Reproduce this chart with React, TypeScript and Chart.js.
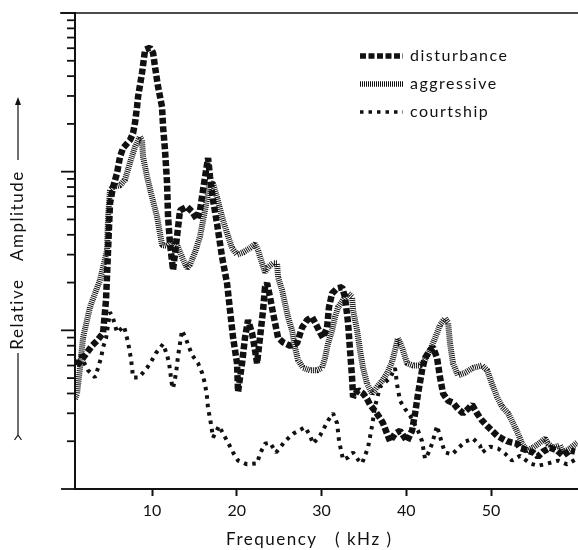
import React, { useEffect, useRef } from "react";
import { Chart, registerables } from "chart.js";

Chart.register(...registerables);

// ---- data (frequency in kHz, relative amplitude on a log scale) ----
const SERIES_NAMES = ["disturbance", "aggressive", "courtship"];

const DIST_FREQ = [1.15, 1.86, 2.92, 3.51, 4.22, 4.57, 4.81, 5.04, 5.4, 5.87, 6.22, 6.58, 7.4, 7.76, 7.99, 8.23, 8.35, 8.82, 9.18, 9.76, 10.12, 10.35, 10.71, 11.18, 11.3, 11.53, 11.77, 11.89, 12.12, 12.48, 12.95, 13.3, 14.13, 14.72, 15.31, 15.66, 16.02, 16.61, 16.84, 17.2, 17.67, 18.26, 18.85, 19.2, 19.56, 20.03, 20.15, 20.62, 20.97, 21.33, 21.8, 22.15, 22.39, 22.74, 23.1, 23.33, 23.57, 23.92, 24.28, 24.87, 25.46, 26.29, 27.11, 27.7, 28.29, 28.88, 29.23, 29.82, 30.17, 30.65, 30.88, 31.24, 31.83, 32.42, 32.77, 33.13, 33.36, 33.6, 33.72, 34.31, 34.9, 35.37, 35.72, 36.31, 36.9, 37.25, 37.73, 38.08, 38.67, 39.26, 40.09, 40.68, 41.04, 41.39, 41.86, 42.21, 42.8, 43.16, 43.63, 43.98, 44.34, 44.93, 45.51, 46.1, 46.69, 47.29, 47.76, 48.35, 48.94, 49.53, 50.12, 50.71, 51.3, 51.89, 52.48, 53.07, 53.42, 54.25, 54.95, 55.54, 56.13, 56.96, 57.79, 58.49, 59.32, 59.91];
const DIST_AMP = [0.6, 0.67, 0.8, 0.86, 0.96, 1.55, 3.2, 6.3, 8.0, 9.8, 12.4, 14.1, 15.8, 17.5, 20.3, 25.6, 29.6, 42, 58.7, 60.4, 56.2, 45.8, 34.3, 25.6, 19.2, 13.7, 8.5, 5.2, 3.5, 2.4, 3.9, 5.7, 6.0, 5.6, 5.0, 5.7, 7.7, 12.2, 9.3, 6.6, 4.7, 2.9, 1.98, 1.34, 0.9, 0.62, 0.41, 0.62, 0.9, 1.16, 0.96, 0.75, 0.62, 0.9, 1.34, 1.87, 1.98, 1.62, 1.28, 0.9, 0.84, 0.8, 0.83, 1.04, 1.16, 1.21, 1.12, 0.97, 0.9, 1.04, 1.4, 1.71, 1.84, 1.87, 1.62, 1.11, 0.75, 0.505, 0.38, 0.42, 0.4, 0.37, 0.34, 0.31, 0.28, 0.26, 0.223, 0.2, 0.223, 0.233, 0.2, 0.233, 0.3, 0.4, 0.56, 0.67, 0.75, 0.78, 0.67, 0.505, 0.4, 0.36, 0.35, 0.32, 0.3, 0.32, 0.34, 0.3, 0.27, 0.25, 0.233, 0.217, 0.208, 0.2, 0.196, 0.193, 0.182, 0.175, 0.17, 0.16, 0.172, 0.182, 0.175, 0.162, 0.175, 0.172];

const AGGR_FREQ = [0.91, 1.15, 1.5, 1.86, 2.33, 2.68, 3.27, 3.86, 4.22, 4.69, 4.81, 5.04, 5.4, 6.22, 6.81, 7.4, 7.99, 8.58, 8.82, 8.94, 9.41, 10.0, 10.59, 11.18, 11.77, 12.36, 12.95, 13.66, 14.13, 14.48, 15.07, 15.66, 16.25, 16.84, 17.2, 17.67, 18.26, 18.85, 19.44, 20.03, 20.74, 21.56, 22.15, 22.51, 22.98, 23.33, 23.69, 24.28, 24.75, 24.87, 25.34, 25.69, 26.05, 26.52, 26.87, 27.23, 27.82, 28.64, 29.47, 30.06, 30.41, 30.77, 31.24, 31.59, 31.95, 32.54, 33.13, 33.6, 33.72, 34.19, 34.54, 34.9, 35.37, 35.96, 36.55, 37.14, 37.73, 38.31, 38.67, 39.02, 39.5, 40.09, 40.8, 41.63, 42.21, 42.8, 43.39, 43.98, 44.57, 44.93, 45.16, 45.51, 46.1, 46.93, 47.88, 48.94, 49.53, 50.12, 50.71, 51.3, 52.01, 52.6, 53.19, 53.66, 54.25, 54.95, 55.78, 56.37, 56.72, 57.31, 58.14, 58.49, 59.32, 60.15];
const AGGR_AMP = [0.37, 0.4, 0.58, 0.9, 1.16, 1.4, 1.71, 2.07, 2.5, 3.2, 5.2, 7.7, 8.0, 8.2, 8.9, 11.4, 14.3, 16.6, 15.8, 12.4, 9.3, 6.9, 5.2, 3.45, 3.4, 3.65, 3.45, 2.8, 2.47, 2.6, 3.1, 3.9, 5.7, 8.5, 8.4, 6.9, 5.2, 4.1, 3.3, 3.0, 3.1, 3.3, 3.5, 3.2, 2.65, 2.32, 2.5, 2.65, 2.65, 2.16, 1.79, 1.48, 1.21, 1.0, 0.78, 0.65, 0.58, 0.56, 0.56, 0.58, 0.67, 0.83, 1.0, 1.21, 1.4, 1.55, 1.71, 1.62, 1.34, 1.0, 0.75, 0.58, 0.46, 0.4, 0.44, 0.48, 0.535, 0.63, 0.75, 0.89, 0.78, 0.62, 0.6, 0.6, 0.65, 0.75, 0.89, 1.08, 1.19, 1.12, 0.83, 0.62, 0.52, 0.54, 0.58, 0.6, 0.56, 0.46, 0.38, 0.33, 0.3, 0.26, 0.223, 0.193, 0.175, 0.182, 0.196, 0.208, 0.193, 0.182, 0.188, 0.17, 0.18, 0.196];

const COURT_FREQ = [1.15, 1.5, 2.45, 3.27, 3.63, 3.98, 4.22, 4.57, 5.04, 5.4, 5.87, 6.7, 7.17, 7.52, 7.76, 8.46, 9.41, 10.0, 10.47, 11.3, 11.77, 12.01, 12.36, 12.48, 12.83, 13.07, 13.54, 14.01, 14.72, 15.43, 15.9, 16.25, 16.49, 16.61, 16.84, 17.2, 17.91, 18.38, 18.97, 19.56, 20.15, 21.21, 22.39, 22.74, 23.33, 23.92, 24.63, 25.1, 25.69, 26.64, 28.05, 28.64, 29.0, 29.82, 30.77, 31.36, 31.83, 32.07, 32.54, 33.13, 33.72, 34.31, 34.78, 35.48, 35.96, 36.31, 36.9, 37.49, 38.08, 38.67, 38.9, 39.26, 39.85, 40.44, 41.39, 41.86, 42.21, 42.57, 43.04, 43.63, 44.22, 44.57, 45.4, 46.1, 46.93, 47.88, 48.7, 48.94, 49.88, 50.82, 51.65, 52.48, 53.42, 54.6, 55.54, 56.72, 57.9, 58.97, 59.91];
const COURT_AMP = [0.62, 0.7, 0.56, 0.505, 0.58, 0.67, 0.78, 0.89, 1.3, 1.19, 0.97, 1.06, 0.84, 0.66, 0.505, 0.505, 0.58, 0.65, 0.72, 0.82, 0.7, 0.62, 0.45, 0.43, 0.535, 0.69, 1.0, 0.88, 0.7, 0.62, 0.54, 0.46, 0.38, 0.32, 0.28, 0.211, 0.25, 0.223, 0.196, 0.17, 0.151, 0.143, 0.145, 0.167, 0.193, 0.196, 0.17, 0.182, 0.2, 0.223, 0.245, 0.217, 0.193, 0.217, 0.27, 0.3, 0.26, 0.2, 0.153, 0.158, 0.17, 0.153, 0.145, 0.182, 0.25, 0.33, 0.44, 0.47, 0.5, 0.58, 0.46, 0.36, 0.32, 0.29, 0.233, 0.2, 0.155, 0.167, 0.193, 0.25, 0.193, 0.17, 0.165, 0.18, 0.199, 0.208, 0.188, 0.17, 0.185, 0.18, 0.167, 0.151, 0.162, 0.145, 0.14, 0.145, 0.151, 0.143, 0.153];

const X_TICKS = [10, 20, 30, 40, 50];
const X_MIN = 0.91;
const X_MAX = 60.26;
const Y_DECADES = [0.1, 1, 10];
const Y_MIN = 0.1;
const Y_MAX = 100;

const X_TITLE = "Frequency   ( kHz )";
const Y_TITLE = "Relative   Amplitude";

const FONT = "Lato, 'DejaVu Sans', sans-serif";
const INK = "#111";

export default function App() {
  const ref = useRef<HTMLCanvasElement>(null);

  useEffect(() => {
    document.body.style.margin = "0";
    const canvas = ref.current!;
    const pts = (xs: number[], ys: number[]) => xs.map((x, i) => ({ x, y: ys[i] }));
    const styles = [
      { borderWidth: 6.5, borderDash: [6, 2.5] },
      { borderWidth: 6, borderDash: [1, 1] },
      { borderWidth: 4, borderDash: [3.5, 5] },
    ];
    const series = [
      pts(DIST_FREQ, DIST_AMP),
      pts(AGGR_FREQ, AGGR_AMP),
      pts(COURT_FREQ, COURT_AMP),
    ];

    const decor = {
      id: "decor",
      beforeDraw(chart: any) {
        const { ctx, width, height } = chart;
        ctx.save();
        ctx.fillStyle = "#fff";
        ctx.fillRect(0, 0, width, height);
        ctx.restore();
      },
      afterDraw(chart: any) {
        const { ctx, chartArea: ca } = chart;
        const ys = chart.scales.y;
        ctx.save();
        ctx.strokeStyle = INK;
        ctx.fillStyle = INK;
        ctx.setLineDash([]);
        // y ticks (log)
        ctx.lineWidth = 1.8;
        const tickVals: { v: number; major: boolean }[] = [];
        Y_DECADES.forEach((d) => {
          for (let m = 1; m <= 9; m++) tickVals.push({ v: m * d, major: m === 1 });
        });
        tickVals.push({ v: Y_MAX, major: true });
        tickVals.forEach(({ v, major }) => {
          const py = ys.getPixelForValue(v);
          const len = major ? 14 : 8;
          ctx.beginPath();
          ctx.moveTo(ca.left - len, py);
          ctx.lineTo(ca.left, py);
          ctx.stroke();
        });
        // top frame line
        ctx.lineWidth = 1.6;
        ctx.beginPath();
        ctx.moveTo(ca.left - 15, ca.top);
        ctx.lineTo(ca.right, ca.top);
        ctx.stroke();

        // legend
        (ctx as any).letterSpacing = "1.5px";
        ctx.font = `16px ${FONT}`;
        ctx.textBaseline = "middle";
        ctx.textAlign = "left";
        SERIES_NAMES.forEach((name, i) => {
          const rowY = ca.top + 43 + i * 28;
          const st = styles[i];
          ctx.save();
          ctx.lineWidth = i === 2 ? 3.5 : 5.5;
          ctx.setLineDash(st.borderDash);
          ctx.beginPath();
          ctx.moveTo(ca.left + 285, rowY);
          ctx.lineTo(ca.left + 328, rowY);
          ctx.stroke();
          ctx.restore();
          ctx.fillText(name, ca.left + 335, rowY);
        });

        // x title
        ctx.font = `17px ${FONT}`;
        ctx.textAlign = "left";
        ctx.fillText(X_TITLE, ca.left + 151, 540);

        // y title with arrows
        ctx.save();
        const cy = ca.top + 256;
        ctx.translate(18, cy);
        ctx.rotate(-Math.PI / 2);
        ctx.font = `17px ${FONT}`;
        ctx.textAlign = "center";
        ctx.fillText(Y_TITLE, 9, 0);
        ctx.lineWidth = 1.2;
        ctx.beginPath();
        ctx.moveTo(-166, 0);
        ctx.lineTo(-84, 0);
        ctx.moveTo(-171, -3.5);
        ctx.lineTo(-166, 0);
        ctx.lineTo(-171, 3.5);
        ctx.moveTo(109, 0);
        ctx.lineTo(166, 0);
        ctx.stroke();
        ctx.beginPath();
        ctx.moveTo(172, 0);
        ctx.lineTo(164, -3);
        ctx.lineTo(164, 3);
        ctx.closePath();
        ctx.fill();
        ctx.restore();

        ctx.restore();
      },
    };

    const chart = new Chart(canvas, {
      type: "line",
      data: {
        datasets: series.map((data, i) => ({
          label: SERIES_NAMES[i],
          data,
          borderColor: INK,
          backgroundColor: INK,
          borderWidth: styles[i].borderWidth,
          borderDash: styles[i].borderDash,
          borderCapStyle: "butt",
          borderJoinStyle: "bevel",
          pointRadius: 0,
          tension: 0,
          fill: false,
        })),
      },
      options: {
        animation: false,
        responsive: false,
        devicePixelRatio: 1,
        layout: { padding: { top: 13, left: 0, right: 0, bottom: 0 } },
        plugins: { legend: { display: false }, tooltip: { enabled: false } },
        scales: {
          x: {
            type: "linear",
            min: X_MIN,
            max: X_MAX,
            afterBuildTicks: (s: any) => {
              s.ticks = X_TICKS.map((v) => ({ value: v }));
            },
            afterFit: (s: any) => {
              s.height = 61;
            },
            ticks: {
              font: { family: FONT, size: 16 },
              color: INK,
              padding: 5,
              maxRotation: 0,
              autoSkip: false,
            },
            grid: {
              drawOnChartArea: false,
              drawTicks: true,
              tickLength: 7,
              tickWidth: 2,
              tickColor: INK,
            },
            border: { display: true, color: INK, width: 2 },
          },
          y: {
            type: "logarithmic",
            min: Y_MIN,
            max: Y_MAX,
            afterFit: (s: any) => {
              s.width = 75;
            },
            ticks: { display: false },
            grid: { display: false },
            border: { display: true, color: INK, width: 2 },
          },
        },
      },
      plugins: [decor],
    } as any);

    return () => chart.destroy();
  }, []);

  return <canvas ref={ref} width={578} height={550} style={{ display: "block" }} />;
}
